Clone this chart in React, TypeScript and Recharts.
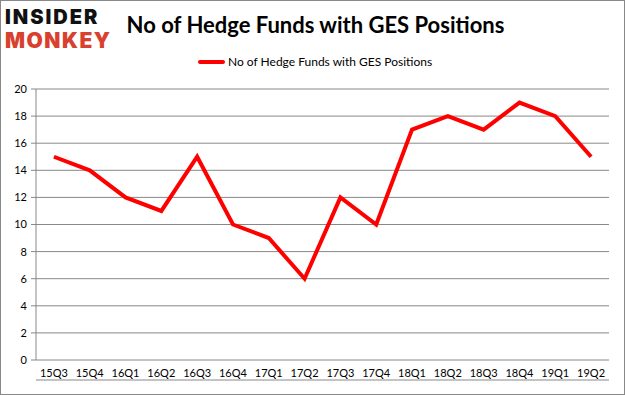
import React from 'react';
import { LineChart, Line, XAxis, YAxis, CartesianGrid } from 'recharts';

const quarters = ['15Q3', '15Q4', '16Q1', '16Q2', '16Q3', '16Q4', '17Q1', '17Q2', '17Q3', '17Q4', '18Q1', '18Q2', '18Q3', '18Q4', '19Q1', '19Q2'];
const hedgeFunds = [15, 14, 12, 11, 15, 10, 9, 6, 12, 10, 17, 18, 17, 19, 18, 15];
const yTicks = [0, 2, 4, 6, 8, 10, 12, 14, 16, 18, 20];
const boundaryTicks = [0, 1, 2, 3, 4, 5, 6, 7, 8, 9, 10, 11, 12, 13, 14, 15, 16];

const seriesName = 'No of Hedge Funds with GES Positions';
const font = 'Lato, "Open Sans", sans-serif';
const axisColor = '#888888';

const chartData = quarters.map((q, i) => ({ q, v: hedgeFunds[i] }));

const Logo: React.FC = () => (
  <div style={{ position: 'absolute', left: 4, top: 5, fontFamily: 'Inter, "DejaVu Sans", sans-serif', fontWeight: 900, lineHeight: '23px' }}>
    <div style={{ fontSize: 20, color: '#111', letterSpacing: '2px' }}>INSIDER</div>
    <div style={{ fontSize: 21, color: '#d9412e', letterSpacing: '1.5px' }}>MONKEY</div>
  </div>
);

export default function App() {
  return (
    <div style={{ position: 'absolute', left: 0, top: 0, width: 625, height: 395, background: '#fff', boxSizing: 'border-box', border: '1px solid #888', overflow: 'hidden' }}>
      <Logo />
      <div style={{ position: 'absolute', left: 0, width: 625, top: 10, textAlign: 'center', fontFamily: font, fontWeight: 700, fontSize: 22, color: '#000', paddingLeft: 2 }}>
        {'No of Hedge Funds with GES Positions'}
      </div>
      <div style={{ position: 'absolute', left: 197, top: 53, display: 'flex', alignItems: 'center', fontFamily: font, fontSize: 12, color: '#000' }}>
        <span style={{ display: 'inline-block', width: 27, height: 4, background: '#ff0000', borderRadius: 2, marginRight: 3 }} />
        <span>{seriesName}</span>
      </div>
      <div style={{ position: 'absolute', left: -1, top: -1 }}>
        <LineChart width={625} height={395} data={chartData} margin={{ top: 89, right: 16, bottom: 10, left: 0 }}>
          <CartesianGrid vertical={false} stroke={axisColor} strokeWidth={1} />
          <XAxis
            xAxisId="edges"
            type="number"
            domain={[0, 16]}
            allowDataOverflow
            ticks={boundaryTicks}
            tick={false}
            tickSize={5}
            height={5}
            stroke={axisColor}
          />
          <XAxis
            xAxisId="cat"
            dataKey="q"
            type="category"
            scale="band"
            axisLine={false}
            tickLine={false}
            height={20}
            tickMargin={3}
            interval={0}
            tick={{ fill: '#000', fontSize: 11, fontFamily: font }}
          />
          <YAxis
            domain={[0, 20]}
            ticks={yTicks}
            width={36}
            tickSize={5}
            tickMargin={4}
            stroke={axisColor}
            tick={{ fill: '#000', fontSize: 11, fontFamily: font }}
          />
          <Line
            xAxisId="cat"
            dataKey="v"
            name={seriesName}
            stroke="#ff0000"
            strokeWidth={4}
            dot={false}
            isAnimationActive={false}
          />
        </LineChart>
      </div>
    </div>
  );
}
